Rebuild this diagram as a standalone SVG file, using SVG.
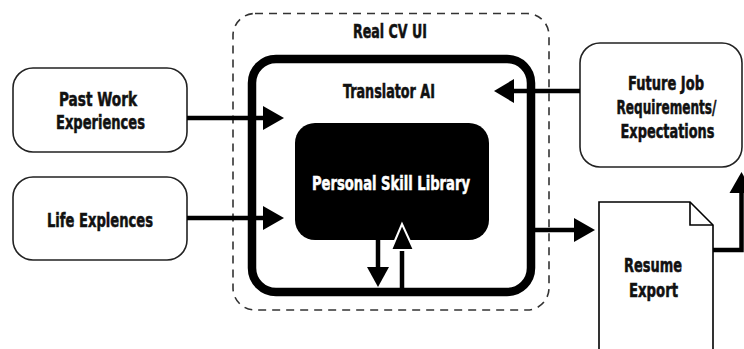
<svg xmlns="http://www.w3.org/2000/svg" width="744" height="349" viewBox="0 0 744 349">
  <defs>
    <style>
      .lbl { font-family: "DejaVu Sans Condensed", "DejaVu Sans", sans-serif; font-stretch: condensed; font-weight: bold; font-size: 19px; text-anchor: middle; fill: #111; stroke: #111; stroke-width: 0.5; }
      .lbl.inv { fill: #fff; stroke: #fff; }
      .node { fill: #fff; stroke: #222; stroke-width: 1.6; }
      .flow { fill: none; stroke: #000; stroke-width: 4.5; }
      .head { fill: #000; }
    </style>
  </defs>
  <rect width="744" height="349" fill="#fff"/>

  <!-- outer dashed frame: Real CV UI -->
  <g id="real-cv-ui">
    <rect x="233" y="13.5" width="316" height="296.5" rx="22" fill="none" stroke="#333" stroke-width="1.6" stroke-dasharray="8 6"/>
    <text class="lbl" x="390" y="38" textLength="74" lengthAdjust="spacingAndGlyphs">Real CV UI</text>
  </g>

  <!-- thick frame: Translator AI -->
  <g id="translator-ai">
    <rect x="252" y="59" width="279" height="233" rx="24" fill="none" stroke="#000" stroke-width="8.5"/>
    <text class="lbl" x="389" y="98" textLength="92" lengthAdjust="spacingAndGlyphs">Translator AI</text>
  </g>

  <!-- inner black block -->
  <g id="skill-library">
    <rect x="295" y="123" width="194" height="117" rx="20" fill="#000"/>
    <text class="lbl inv" x="391" y="190" textLength="158" lengthAdjust="spacingAndGlyphs">Personal Skill Library</text>
  </g>

  <g id="past-work">
    <rect class="node" x="13" y="68" width="174" height="84" rx="20"/>
    <text class="lbl" x="98" y="105.5" textLength="78" lengthAdjust="spacingAndGlyphs">Past Work</text>
    <text class="lbl" x="100.5" y="128.5" textLength="89" lengthAdjust="spacingAndGlyphs">Experiences</text>
  </g>

  <g id="life-experiences">
    <rect class="node" x="13" y="177" width="174" height="83" rx="20"/>
    <text class="lbl" x="100" y="227" textLength="106" lengthAdjust="spacingAndGlyphs">Life Explences</text>
  </g>

  <g id="future-job">
    <rect class="node" x="580" y="43" width="162" height="124" rx="20"/>
    <text class="lbl" x="666" y="90" textLength="76" lengthAdjust="spacingAndGlyphs">Future Job</text>
    <text class="lbl" x="666.5" y="114" font-size="17.5" stroke-width="0.6" textLength="100" lengthAdjust="spacingAndGlyphs">Requirements/</text>
    <text class="lbl" x="667.5" y="137.5" textLength="94" lengthAdjust="spacingAndGlyphs">Expectations</text>
  </g>

  <g id="resume-export">
    <path d="M599 360 V202 H690 L713 225 V360" fill="#fff" stroke="#000" stroke-width="1.6"/>
    <path d="M690 202 V225 H713" fill="none" stroke="#000" stroke-width="1.6"/>
    <text class="lbl" x="653" y="272" textLength="58" lengthAdjust="spacingAndGlyphs">Resume</text>
    <text class="lbl" x="653.5" y="297" textLength="49" lengthAdjust="spacingAndGlyphs">Export</text>
  </g>

  <g id="connectors">
    <!-- Past Work -> Translator -->
    <path class="flow" d="M187 118 H264"/>
    <polygon class="head" points="263,106 284,118 263,130"/>
    <!-- Life -> Translator -->
    <path class="flow" d="M187 218 H264"/>
    <polygon class="head" points="263,206 284,218 263,230"/>
    <!-- Future Job -> Translator -->
    <path class="flow" d="M580 91 H512"/>
    <polygon class="head" points="514,79 494,91 514,103"/>
    <!-- Translator -> Resume -->
    <path class="flow" d="M535 230 H576"/>
    <polygon class="head" points="574,218 595,230 574,242"/>
    <!-- Resume -> Future Job -->
    <path class="flow" d="M713 250 H741.5 V190"/>
    <polygon class="head" points="729.5,193 741.5,172 753.5,193"/>
    <!-- Library -> down -->
    <path class="flow" d="M378 240 V268" stroke-width="4"/>
    <polygon class="head" points="367,267 389,267 378,287"/>
    <!-- up -> Library -->
    <path class="flow" d="M402 292 V248" stroke-width="4"/>
    <polygon class="head" points="391,250 402,224 414,250" stroke="#fff" stroke-width="2" stroke-linejoin="miter"/>
  </g>
</svg>
